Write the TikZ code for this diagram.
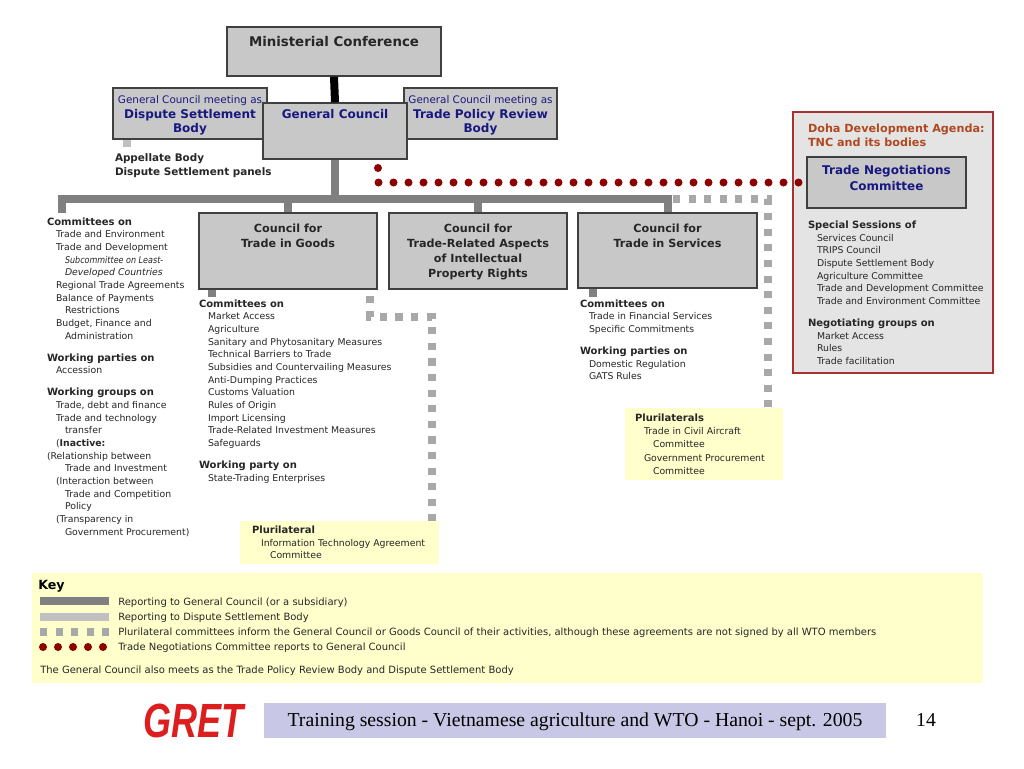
\documentclass[tikz,border=0pt]{standalone}
\usepackage{fontspec}
\usepackage{graphicx}
\setmainfont{DejaVu Sans}
\newfontfamily\serifft{Liberation Serif}
\newfontfamily\gretfont{Liberation Sans}
\usetikzlibrary{fit}
\definecolor{boxfill}{RGB}{200,200,200}
\definecolor{boxline}{RGB}{64,64,64}
\definecolor{cGray}{RGB}{128,128,128}
\definecolor{cLight}{RGB}{192,192,192}
\definecolor{cPluri}{RGB}{168,168,168}
\definecolor{cRed}{RGB}{140,0,0}
\definecolor{cNavy}{RGB}{24,24,128}
\definecolor{cDoha}{RGB}{176,72,32}
\definecolor{cDohaLine}{RGB}{168,48,48}
\definecolor{cDohaFill}{RGB}{228,228,228}
\definecolor{cYellow}{RGB}{255,255,204}
\definecolor{cBand}{RGB}{200,200,230}
\definecolor{cGret}{RGB}{220,30,30}
\newcommand\Hd[1]{{\fontsize{7.5}{9.5}\selectfont\bfseries #1}}
\newcommand\Ia{\hspace*{6.75pt}}
\newcommand\Ib{\hspace*{13.5pt}}
\newcommand\Top{\rule{0pt}{7pt}}
\tikzset{
  wbox/.style={draw=boxline, fill=boxfill, line width=1pt, inner sep=0pt},
  ybox/.style={fill=cYellow, draw=none, inner sep=0pt},
  ttl/.style={anchor=north, align=center, inner sep=0pt, outer sep=0pt, font=\fontsize{8.4}{11.25}\selectfont\bfseries, text=black!85},
  navyttl/.style={anchor=north, align=center, inner sep=0pt, outer sep=0pt, font=\fontsize{9}{11}\selectfont\bfseries, text=cNavy},
  txtlist/.style={anchor=north west, align=left, inner sep=0pt, outer sep=0pt, font=\fontsize{7}{9.5}\selectfont, text=black!85},
  keytxt/.style={anchor=base west, inner sep=0pt, font=\fontsize{7.5}{9}\selectfont, text=black!85},
  trunk/.style={draw=cGray, line width=6pt},
  blackc/.style={draw=black, line width=6pt},
  dsbc/.style={draw=cLight, line width=6pt},
  pluri/.style={draw=cPluri, line width=5.3pt, dash pattern=on 5.3pt off 6.4pt},
  tncdots/.style={draw=cRed, line width=6pt, line cap=round, dash pattern=on 0pt off 11.25pt},
}
\begin{document}
\begin{tikzpicture}[x=0.75pt, y=-0.75pt]
\useasboundingbox (0,0) rectangle (1024,768);
\fill[white] (0,0) rectangle (1024,768);

% top boxes
\node[wbox, fit={(227,27) (441,76)}] (mc) {};
\node[anchor=base, inner sep=0pt, font=\fontsize{10}{12}\selectfont\bfseries, text=black!85] (mct) at (334,46) {Ministerial Conference};
\node[wbox, fit={(113,88) (267,139)}] (dsb) {};
\node[navyttl] (dsbt) at (190,94.2) {{\Top\fontsize{7.8}{11}\selectfont\mdseries General Council meeting as}\\Dispute Settlement\\Body};
\node[wbox, fit={(404,88) (557,139)}] (tprb) {};
\node[navyttl] (tprbt) at (480.5,94.2) {{\Top\fontsize{7.8}{11}\selectfont\mdseries General Council meeting as}\\Trade Policy Review\\Body};
\node[wbox, fit={(263,103) (407,159)}] (gc) {};
\node[anchor=base, inner sep=0pt, font=\fontsize{9}{11}\selectfont\bfseries, text=cNavy] (gct) at (335,118.5) {General Council};

\node[anchor=north west, align=left, inner sep=0pt, outer sep=0pt, font=\fontsize{7.8}{10.5}\selectfont\bfseries, text=black!85] (apt) at (115,151.7) {\Top Appellate Body\\Dispute Settlement panels};

% councils
\node[wbox, fit={(199,213) (377,289)}] (goods) {};
\node[ttl] (goodst) at (288,222.7) {\Top Council for\\Trade in Goods};
\node[wbox, fit={(389,213) (567,289)}] (trips) {};
\node[ttl] (tripst) at (478,222.7) {\Top Council for\\Trade-Related Aspects\\of Intellectual\\Property Rights};
\node[wbox, fit={(578,213) (757,288)}] (svc) {};
\node[ttl] (svct) at (667.5,222.7) {\Top Council for\\Trade in Services};

% lists
\node[txtlist] (leftlist) at (47,215.7) {\Top\Hd{Committees on}\\
\Ia Trade and Environment\\
\Ia Trade and Development\\
\Ib\scalebox{0.86}[1]{\itshape Subcommittee on Least-}\\
\Ib\textit{Developed Countries}\\
\Ia Regional Trade Agreements\\
\Ia Balance of Payments\\
\Ib Restrictions\\
\Ia Budget, Finance and\\
\Ib Administration\\[7pt]
\Hd{Working parties on}\\
\Ia Accession\\[7pt]
\Hd{Working groups on}\\
\Ia Trade, debt and finance\\
\Ia Trade and technology\\
\Ib transfer\\
\Ia(\textbf{Inactive:}\\
(Relationship between\\
\Ib Trade and Investment\\
\Ia(Interaction between\\
\Ib Trade and Competition\\
\Ib Policy\\
\Ia(Transparency in\\
\Ib Government Procurement)};

\node[txtlist] (goodslist) at (199,297.7) {\Top\Hd{Committees on}\\
\Ia Market Access\\
\Ia Agriculture\\
\Ia Sanitary and Phytosanitary Measures\\
\Ia Technical Barriers to Trade\\
\Ia Subsidies and Countervailing Measures\\
\Ia Anti-Dumping Practices\\
\Ia Customs Valuation\\
\Ia Rules of Origin\\
\Ia Import Licensing\\
\Ia Trade-Related Investment Measures\\
\Ia Safeguards\\[7pt]
\Hd{Working party on}\\
\Ia State-Trading Enterprises};

\node[txtlist] (svclist) at (580,297.7) {\Top\Hd{Committees on}\\
\Ia Trade in Financial Services\\
\Ia Specific Commitments\\[7pt]
\Hd{Working parties on}\\
\Ia Domestic Regulation\\
\Ia GATS Rules};

% plurilateral boxes
\node[ybox, fit={(240,521) (439,564)}] (ita) {};
\node[txtlist] (itat) at (252,524.2) {\Top\Hd{Plurilateral}\\
\Ia Information Technology Agreement\\
\Ib Committee};
\node[ybox, fit={(625,408) (783,480)}] (spl) {};
\node[txtlist, font=\fontsize{7}{10}\selectfont] (splt) at (635,411.7) {\Top\Hd{Plurilaterals}\\
\Ia Trade in Civil Aircraft\\
\Ib Committee\\
\Ia Government Procurement\\
\Ib Committee};

% Doha box
\node[draw=cDohaLine, fill=cDohaFill, line width=0.8pt, inner sep=0pt, fit={(793,112) (993,373)}] (doha) {};
\node[anchor=north west, align=left, inner sep=0pt, outer sep=0pt, font=\fontsize{8.4}{10.5}\selectfont\bfseries, text=cDoha] (dohat) at (808,122.7) {\Top Doha Development Agenda:\\TNC and its bodies};
\node[wbox, fit={(807,157) (966,208)}] (tnc) {};
\node[navyttl, font=\fontsize{9}{12}\selectfont\bfseries] (tnct) at (886.5,165.2) {\Top Trade Negotiations\\Committee};
\node[txtlist] (dohalist) at (808,219.2) {\Top\Hd{Special Sessions of}\\
\Ia Services Council\\
\Ia TRIPS Council\\
\Ia Dispute Settlement Body\\
\Ia Agriculture Committee\\
\Ia Trade and Development Committee\\
\Ia Trade and Environment Committee\\[7pt]
\Hd{Negotiating groups on}\\
\Ia Market Access\\
\Ia Rules\\
\Ia Trade facilitation};

% coordinates
\coordinate (by) at (0,199);
\coordinate (lstub) at (62,213);
\coordinate (apb) at (127,147);
\coordinate (gst) at (212,297);
\coordinate (sst) at (593,297);
\coordinate (gpc) at (370,317);
\coordinate (gpd) at (432,317);
\coordinate (spa) at (673,199);
\coordinate (spb) at (768,199);
\coordinate (rd0) at (378,168);

% connectors
\draw[blackc] (mc.south) -- (gc.north);
\draw[trunk] (gc.south) -- (gc.south |- by);
\draw[trunk, line join=miter] (lstub) -- (lstub |- by) -- (svc.north |- by) -- (svc.north);
\draw[trunk] (goods.north) -- (goods.north |- by);
\draw[trunk] (trips.north) -- (trips.north |- by);
\draw[dsbc] (dsb.south -| apb) -- (apb);
\draw[trunk] (goods.south -| gst) -- (gst);
\draw[trunk] (svc.south -| sst) -- (sst);
\draw[pluri, dash phase=7.2pt] (goods.south -| gpc) -- (gpc) -- (gpd) -- (ita.north -| gpd);
\draw[pluri] (spa) -- (spb) -- (spl.north -| spb);
\draw[tncdots] (rd0) |- (tnc.west);

% key
\node[ybox, fit={(32,573) (983,683)}] (key) {};
\node[anchor=base west, inner sep=0pt, font=\fontsize{9.5}{11}\selectfont\bfseries] (keyt) at (38,589) {Key};
\draw[trunk] (40,601) -- (109,601);
\draw[dsbc] (40,617) -- (109,617);
\draw[pluri] (40,632) -- (110,632);
\draw[tncdots] (43,647) -- (107,647);
\node[keytxt] (k1) at (118,605) {Reporting to General Council (or a subsidiary)};
\node[keytxt] (k2) at (118,620.5) {Reporting to Dispute Settlement Body};
\node[keytxt] (k3) at (118,635.5) {Plurilateral committees inform the General Council or Goods Council of their activities, although these agreements are not signed by all WTO members};
\node[keytxt] (k4) at (118,650.5) {Trade Negotiations Committee reports to General Council};
\node[keytxt] (k5) at (40,673.5) {The General Council also meets as the Trade Policy Review Body and Dispute Settlement Body};

% footer
\node[fill=cBand, inner sep=0pt, fit={(264,703) (886,738)}] (band) {};
\node[anchor=base, inner sep=0pt, font=\serifft\fontsize{14.8}{16}\selectfont] (bandt) at (575,726) {Training session - Vietnamese agriculture and WTO - Hanoi - sept. 2005};
\node[anchor=base, inner sep=0pt, font=\serifft\fontsize{14.8}{16}\selectfont] (pgno) at (926,726) {14};
\node[inner sep=0pt, text=cGret, font=\gretfont\bfseries\itshape\fontsize{36}{40}\selectfont] (gret) at (193,721) {\scalebox{0.75}[1]{GRET}};
\end{tikzpicture}
\end{document}
